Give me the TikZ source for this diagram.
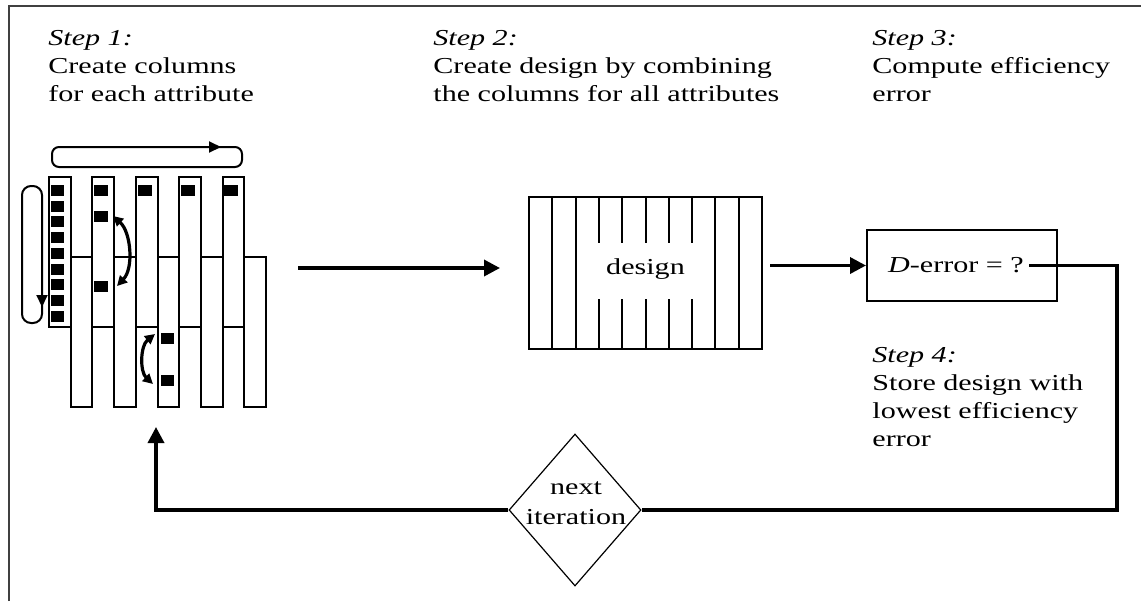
\documentclass[tikz,border=0pt]{standalone}
\usepackage{fontspec}
\setmainfont{Liberation Serif}[FakeStretch=1.32, Ligatures=NoCommon]
\usetikzlibrary{arrows.meta, shapes.geometric}
\begin{document}
\begin{tikzpicture}[x=0.5pt,y=-0.5pt,
  every node/.style={inner sep=0pt, font=\fontsize{11.4pt}{14pt}\selectfont},
  boxline/.style={line width=1pt, draw=black},
  colline/.style={line width=1pt, draw=black},
  conn/.style={line width=1.75pt, -{Triangle[length=8pt,width=8pt]}},
  plainconn/.style={line width=1.75pt},
  looptip/.style={line width=1pt, -{Triangle[length=6pt,width=5.5pt]}},
  swaparrow/.style={line width=1.6pt, {Triangle[length=5pt,width=5pt]}-{Triangle[length=5pt,width=5pt]}},
  steptext/.style={anchor=north west, align=left}
]
\useasboundingbox (0,0) rectangle (1141,601);
% frame
\draw[line width=1pt, draw=black!75] (9,601) -- (9,6) -- (1141,6);

% step texts
\node[steptext] (s1) at (48,30) {\textit{Step 1:}\\Create columns\\for each attribute};
\node[steptext] (s2) at (433,30) {\textit{Step 2:}\\Create design by combining\\the columns for all attributes};
\node[steptext] (s3) at (872,30) {\textit{Step 3:}\\Compute efficiency\\error};
\node[steptext] (s4) at (872,347) {\textit{Step 4:}\\Store design with\\lowest efficiency\\error};

% columns
\foreach \k in {0,2,4,6,8}
  \draw[colline] ({49+21.7*\k},177) rectangle ({49+21.7*(\k+1)},327);
\foreach \k in {1,3,5,7,9}
  \draw[colline] ({49+21.7*\k},257) rectangle ({49+21.7*(\k+1)},407);

% black squares
\foreach \i in {0,...,8}
  \fill (50.5,{185+15.7*\i}) rectangle ++(13,11);
\fill (94,185) rectangle ++(14,11);
\fill (94,211) rectangle ++(14,11);
\fill (94,281) rectangle ++(14,11);
\fill (138,185) rectangle ++(14,11);
\fill (181,185) rectangle ++(14,11);
\fill (224,185) rectangle ++(14,11);
\fill (161,333) rectangle ++(13,11);
\fill (161,375) rectangle ++(13,11);

% loops
\draw[line width=1pt, rounded corners=3.5pt] (52,147) rectangle (242,167);
\draw[looptip] (190,147) -- (221,147);
\draw[line width=1pt, rounded corners=4.5pt] (22,186) rectangle (42,323);
\draw[looptip] (42,275) -- (42,307);

% swap arrows
\draw[swaparrow] (113,216) .. controls (131,232) and (134,268) .. (117,286);
\draw[swaparrow] (155,334) .. controls (140,346) and (140,372) .. (153,384);

% design box
\node[boxline, draw, minimum width=116.5pt, minimum height=76pt] (design) at (645.5,273) {};
\foreach \i in {1,2,8,9}
  \draw[line width=1pt] ({529+23.3*\i},197) -- ({529+23.3*\i},349);
\foreach \i in {3,...,7} {
  \draw[line width=1pt] ({529+23.3*\i},197) -- ({529+23.3*\i},243);
  \draw[line width=1pt] ({529+23.3*\i},299) -- ({529+23.3*\i},349);
}
\node (designtxt) at (645.5,269) {design};

% D-error box
\node[boxline, draw, minimum width=95pt, minimum height=35.5pt] (derr) at (962,265.5) {};
\node (derrtxt) at (956,265.5) {\textit{D}-error = ?};

% diamond
\node[draw, diamond, line width=0.6pt, minimum width=66pt, minimum height=76pt] (iter) at (575,510) {};
\node[align=center, font=\fontsize{11.4pt}{15pt}\selectfont] (itertxt) at (576,503) {next\\iteration};

% connectors
\coordinate (colsE) at (298,268);
\draw[conn, shorten >=14pt] (colsE) -- (colsE -| design.west);
\draw[conn, shorten <=3.5pt] (design.east |- derr.west) -- (derr.west);
\coordinate (xr) at (1117,0);
\coordinate (rc1) at (derrtxt.east -| xr);
\coordinate (rc2) at (1117,510);
\draw[plainconn] ([xshift=2.5pt]derrtxt.east) -- (rc1) -- (rc2) -- (iter.east);
\coordinate (lc1) at (156,510);
\coordinate (uptip) at (156,427);
\draw[conn] (iter.west) -- (lc1) -- (uptip);
\end{tikzpicture}
\end{document}
